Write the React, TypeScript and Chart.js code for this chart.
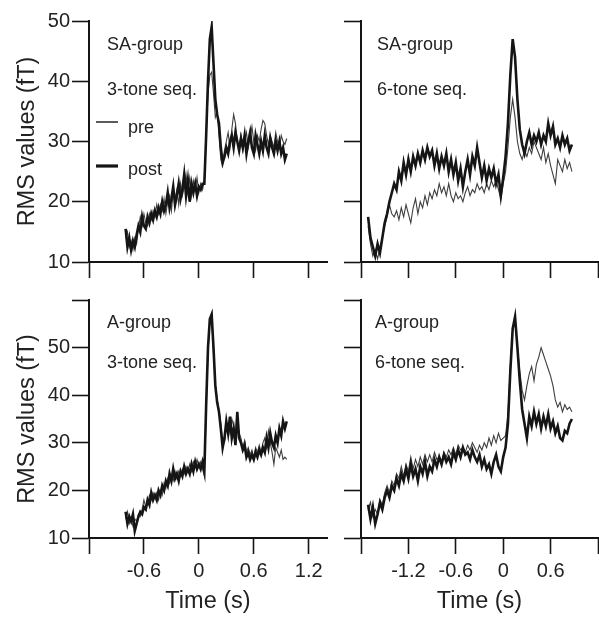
import { useEffect, useRef } from 'react';
import { Chart, registerables } from 'chart.js';

Chart.register(...registerables);

const FONT = '"Liberation Sans", Arial, Helvetica, sans-serif';

// sample timing (s)
const T3_START = -0.8;
const T3_STEP = 0.02;
const T6_START = -1.71;
const T6_STEP = 0.03;

// SA-group, 3-tone sequence
const SA3_POST = [15.5, 12.5, 14, 12, 13.5, 12.5, 14.5, 16, 15, 17.5, 16, 15.5, 17.5, 16.5, 18, 17, 18.5, 17.5, 19, 18, 20, 18.5, 19.5, 21.5, 19, 20.5, 22.5, 19.5, 21, 23, 20.5, 22, 24.5, 21, 23.5, 20, 23, 21.5, 23, 21, 22.5, 22, 23, 23, 31, 40, 47, 49, 43, 37, 34.5, 33, 29, 26.5, 27.5, 29, 28, 30, 31, 29, 31.5, 30, 28.5, 30.5, 29, 31, 28, 30, 31.5, 29, 28, 31, 29.5, 28, 30, 28.5, 31, 29, 28, 30.5, 29, 28, 30, 28.5, 30, 28, 29, 27, 28];
const SA3_PRE = [14, 15, 12.5, 13.5, 12, 14, 13, 15.5, 17.5, 16, 18, 16.5, 16, 18, 17, 18.5, 17.5, 19.5, 18, 19.5, 18.5, 20.5, 18, 20, 21, 18.5, 21.5, 20.5, 22, 19.5, 23, 21, 22.5, 24.5, 21.5, 24, 21, 23.5, 22, 24, 21.5, 23, 22, 23.5, 31, 38, 41, 41.5, 38, 34, 35, 31, 27, 26, 28.5, 30, 31.5, 29, 32, 34.5, 33, 30, 29, 31, 28.5, 30, 31.5, 29, 30.5, 32.5, 30, 28.5, 31, 30, 32, 33.5, 33, 31, 29.5, 31, 30, 29, 31.5, 30, 29, 31, 30, 29.5, 30.5];

// SA-group, 6-tone sequence
const SA6_POST = [17.5, 14, 12.5, 11, 13, 11.5, 14, 16.5, 18, 20, 21.5, 23, 22, 25, 23.5, 26.5, 24.5, 27, 25, 27.5, 26, 28, 26.5, 28.5, 27, 29, 27.5, 28.5, 26, 28, 25.5, 27.5, 26, 28, 25, 27, 24.5, 26.5, 23.5, 25.5, 22.5, 25, 27, 24.5, 27.5, 26, 29, 26.5, 24, 26, 23.5, 25.5, 24, 25.5, 23, 24.5, 21, 24, 27.5, 33, 41, 47, 44, 37, 32, 29.5, 28, 30, 31.5, 29.5, 31, 30, 31.5, 29.5, 31, 30, 33, 31, 32.5, 29.5, 30.5, 29, 31, 29.5, 30.5, 28.5, 29.5];
const SA6_PRE = [16, 13, 11, 12, 10.5, 12.5, 14, 16, 17.5, 19.5, 18, 17.5, 18.5, 17, 19, 17.5, 19.5, 18, 16.5, 19, 20.5, 18, 20, 19, 21, 19.5, 21.5, 20.5, 22, 21, 23, 21.5, 22.5, 21, 23, 21, 20, 21.5, 20.5, 21, 20, 21.5, 22.5, 21, 22, 21.5, 23, 22, 22.5, 21.5, 23, 22, 23.5, 22.5, 23.5, 22, 20.5, 23, 25, 29, 34, 37, 34, 30, 28, 27, 28.5, 27.5, 29, 28, 30, 29, 28, 27, 29, 26.5, 28, 26, 24.5, 23, 27, 26, 25, 27, 25.5, 26.5, 25];

// A-group, 3-tone sequence
const A3_POST = [15.5, 13, 14.5, 13.5, 15, 11.5, 13, 14.5, 15.5, 15, 16.5, 16, 18, 17, 19.5, 18, 19, 18, 20, 19, 21, 20, 22, 21, 23.5, 22, 24.5, 22.5, 23.5, 22, 24, 23, 25, 23.5, 24.5, 23.5, 25.5, 24, 26, 24.5, 25.5, 24.5, 26, 24, 38, 50, 56, 57, 50, 42, 38.5, 36.5, 33, 29, 31, 34.5, 32, 35.5, 31, 33, 29.5, 36.5, 31, 30, 28.5, 29.5, 27, 28, 26.5, 27.5, 26.5, 28, 27, 28.5, 27.5, 29, 28, 31, 29, 32, 30, 29, 31.5, 30, 33, 31.5, 34.5, 33, 34.5];
const A3_PRE = [14, 15.5, 13, 14, 12.5, 14, 13.5, 15, 14.5, 16, 18, 16.5, 17, 19, 18, 19.5, 18.5, 19.5, 18, 20, 19, 21.5, 20.5, 22.5, 21.5, 23, 22, 24, 22.5, 24, 23, 24.5, 23.5, 25, 24, 25.5, 24, 26, 25, 26.5, 25, 26, 24.5, 23, 37, 49, 55.5, 56.5, 49, 42.5, 39, 37, 34, 30, 30, 33, 34, 32, 35, 33.5, 31, 34, 32, 31, 29, 30.5, 28, 29, 27.5, 28.5, 27, 29, 28, 29.5, 28, 30, 31, 29, 32.5, 30, 28, 25.5, 29, 28, 27, 28.5, 26.5, 27, 26.5];

// A-group, 6-tone sequence
const A6_POST = [17, 14, 16.5, 13, 15, 17.5, 16, 18.5, 20, 18.5, 21, 20, 22.5, 21, 23.5, 22, 24.5, 22.5, 25.5, 23, 24.5, 22, 25, 23.5, 26, 23, 25, 24, 26.5, 25, 27, 25.5, 27.5, 26, 27, 25.5, 28, 26.5, 28.5, 27, 29, 27.5, 28, 26.5, 28.5, 27, 26, 27.5, 25, 26.5, 24.5, 25.5, 23.5, 26, 27.5, 25, 24, 27, 29, 34, 45, 54, 56.5, 50, 43, 37, 34, 31, 35.5, 33.5, 36.5, 34, 36, 33, 35.5, 33.5, 36, 33, 34.5, 32, 33.5, 31, 30.5, 32.5, 32, 34, 35];
const A6_PRE = [16, 17.5, 14.5, 16, 15, 18, 17, 19.5, 21, 19.5, 22, 21, 23.5, 22.5, 25, 23, 25.5, 24, 27, 24.5, 26.5, 25, 27, 25.5, 27.5, 26, 27.5, 26, 28, 26.5, 27, 26, 28, 27, 28.5, 27.5, 29, 27.5, 29.5, 28.5, 29, 28, 29.5, 28.5, 30, 29, 28, 29.5, 28.5, 30, 29, 31, 29.5, 31.5, 30, 32, 30.5, 31, 31.5, 36, 46, 54, 56, 50, 45, 41, 39, 42, 44.5, 46, 43, 46.5, 48, 50, 48.5, 47, 45.5, 44, 42, 39, 37.5, 38.5, 36.5, 38, 37, 37.5, 36.5];

// axes
const X_TICKS_3 = [-1.2, -0.6, 0, 0.6, 1.2];
const X_LABELS_3 = ['', '-0.6', '0', '0.6', '1.2'];
const X_TICKS_6 = [-1.8, -1.2, -0.6, 0, 0.6, 1.2];
const X_LABELS_6 = ['', '-1.2', '-0.6', '0', '0.6', ''];
const Y_TICKS_SA = [10, 20, 30, 40, 50];
const Y_LABELS_SA = ['10', '20', '30', '40', '50'];
const Y_TICKS_A = [10, 20, 30, 40, 50, 60];
const Y_LABELS_A = ['10', '20', '30', '40', '50', ''];

const Y_TITLE = 'RMS values (fT)';
const X_TITLE = 'Time (s)';
const SERIES_LABELS = ['post', 'pre'];

type Panel = {
  left: number; top: number; w: number; h: number;
  yAxisW: number; xAxisH: number; padTop: number; padRight: number;
  post: number[]; pre: number[]; tStart: number; tStep: number;
  xMin: number; xMax: number; xTicks: number[]; xLabels: string[]; showXLabels: boolean;
  yMin: number; yMax: number; yTicks: number[]; yLabels: string[]; showYLabels: boolean;
  texts: { text: string; x: number; y: number }[];
  legend: boolean;
};

const PANELS: Panel[] = [
  {
    left: 0, top: 0, w: 335, h: 290, yAxisW: 89, xAxisH: 28, padTop: 21, padRight: 8,
    post: SA3_POST, pre: SA3_PRE, tStart: T3_START, tStep: T3_STEP,
    xMin: -1.2, xMax: 1.4, xTicks: X_TICKS_3, xLabels: X_LABELS_3, showXLabels: false,
    yMin: 10, yMax: 50, yTicks: Y_TICKS_SA, yLabels: Y_LABELS_SA, showYLabels: true,
    texts: [{ text: 'SA-group', x: 107, y: 50 }, { text: '3-tone seq.', x: 107, y: 95 }],
    legend: true,
  },
  {
    left: 335, top: 0, w: 264, h: 290, yAxisW: 26, xAxisH: 28, padTop: 21, padRight: 1,
    post: SA6_POST, pre: SA6_PRE, tStart: T6_START, tStep: T6_STEP,
    xMin: -1.8, xMax: 1.2, xTicks: X_TICKS_6, xLabels: X_LABELS_6, showXLabels: false,
    yMin: 10, yMax: 50, yTicks: Y_TICKS_SA, yLabels: Y_LABELS_SA, showYLabels: false,
    texts: [{ text: 'SA-group', x: 42, y: 50 }, { text: '6-tone seq.', x: 42, y: 95 }],
    legend: false,
  },
  {
    left: 0, top: 290, w: 335, h: 327, yAxisW: 89, xAxisH: 79, padTop: 10, padRight: 8,
    post: A3_POST, pre: A3_PRE, tStart: T3_START, tStep: T3_STEP,
    xMin: -1.2, xMax: 1.4, xTicks: X_TICKS_3, xLabels: X_LABELS_3, showXLabels: true,
    yMin: 10, yMax: 60, yTicks: Y_TICKS_A, yLabels: Y_LABELS_A, showYLabels: true,
    texts: [{ text: 'A-group', x: 107, y: 38 }, { text: '3-tone seq.', x: 107, y: 78 }],
    legend: false,
  },
  {
    left: 335, top: 290, w: 264, h: 327, yAxisW: 26, xAxisH: 79, padTop: 10, padRight: 1,
    post: A6_POST, pre: A6_PRE, tStart: T6_START, tStep: T6_STEP,
    xMin: -1.8, xMax: 1.2, xTicks: X_TICKS_6, xLabels: X_LABELS_6, showXLabels: true,
    yMin: 10, yMax: 60, yTicks: Y_TICKS_A, yLabels: Y_LABELS_A, showYLabels: false,
    texts: [{ text: 'A-group', x: 40, y: 38 }, { text: '6-tone seq.', x: 40, y: 78 }],
    legend: false,
  },
];

const textPlugin = {
  id: 'panelText',
  afterDraw(chart: any, _args: any, opts: any) {
    const ctx = chart.ctx;
    ctx.save();
    ctx.font = `18px ${FONT}`;
    ctx.fillStyle = '#222';
    ctx.textAlign = 'left';
    ctx.textBaseline = 'alphabetic';
    (opts.texts || []).forEach((t: any) => ctx.fillText(t.text, t.x, t.y));
    if (opts.legend) {
      const rows = [
        { ds: chart.data.datasets[1], lineY: 122, textY: 133 },
        { ds: chart.data.datasets[0], lineY: 166, textY: 175 },
      ];
      rows.forEach((r) => {
        ctx.strokeStyle = r.ds.borderColor;
        ctx.lineWidth = r.ds.borderWidth + 0.6;
        ctx.beginPath();
        ctx.moveTo(96, r.lineY);
        ctx.lineTo(118, r.lineY);
        ctx.stroke();
        ctx.fillText(r.ds.label, 128, r.textY);
      });
    }
    ctx.restore();
  },
};

function PanelChart({ p }: { p: Panel }) {
  const ref = useRef<HTMLCanvasElement>(null);
  useEffect(() => {
    if (!ref.current) return;
    const pts = (vals: number[]) =>
      vals.map((v, i) => ({ x: +(p.tStart + i * p.tStep).toFixed(3), y: v }));
    const findLabel = (ticks: number[], labels: string[], v: number) => {
      const i = ticks.findIndex((t) => Math.abs(t - v) < 1e-6);
      return i >= 0 ? labels[i] : '';
    };
    const chart = new Chart(ref.current, {
      type: 'line',
      data: {
        datasets: [
          {
            label: SERIES_LABELS[0], data: pts(p.post), borderColor: '#151515',
            borderWidth: 2.6, pointRadius: 0, tension: 0, fill: false,
          },
          {
            label: SERIES_LABELS[1], data: pts(p.pre), borderColor: '#3e3e3e',
            borderWidth: 1.1, pointRadius: 0, tension: 0, fill: false,
          },
        ],
      },
      options: {
        responsive: false,
        animation: false,
        events: [],
        layout: { padding: { top: p.padTop, right: p.padRight, left: 0, bottom: 0 } },
        plugins: {
          legend: { display: false },
          tooltip: { enabled: false },
          panelText: { texts: p.texts, legend: p.legend },
        } as any,
        scales: {
          x: {
            type: 'linear',
            min: p.xMin,
            max: p.xMax,
            afterBuildTicks: (s: any) => { s.ticks = p.xTicks.map((v) => ({ value: v })); },
            afterFit: (s: any) => {
              s.height = p.xAxisH;
              s.paddingLeft = 0; s.paddingRight = 0; s.paddingTop = 0; s.paddingBottom = 0;
            },
            ticks: {
              autoSkip: false,
              maxRotation: 0,
              padding: 5,
              color: '#222',
              font: { family: FONT, size: 20 },
              callback: (v: any) => (p.showXLabels ? findLabel(p.xTicks, p.xLabels, Number(v)) : ''),
            },
            grid: { drawOnChartArea: false, drawTicks: true, tickLength: 16, tickWidth: 1.6, tickColor: '#151515' },
            border: { display: true, color: '#151515', width: 2 },
            title: {
              display: p.showXLabels,
              text: X_TITLE,
              color: '#222',
              font: { family: FONT, size: 23.5 },
              padding: { top: 0, bottom: 1 },
            },
          },
          y: {
            type: 'linear',
            min: p.yMin,
            max: p.yMax,
            afterBuildTicks: (s: any) => { s.ticks = p.yTicks.map((v) => ({ value: v })); },
            afterFit: (s: any) => {
              s.width = p.yAxisW;
              s.paddingLeft = 0; s.paddingRight = 0; s.paddingTop = 0; s.paddingBottom = 0;
            },
            ticks: {
              autoSkip: false,
              padding: 2,
              color: '#222',
              font: { family: FONT, size: 20 },
              callback: (v: any) => (p.showYLabels ? findLabel(p.yTicks, p.yLabels, Number(v)) : ''),
            },
            grid: { drawOnChartArea: false, drawTicks: true, tickLength: 17, tickWidth: 1.6, tickColor: '#151515' },
            border: { display: true, color: '#151515', width: 2 },
            title: {
              display: p.showYLabels,
              text: Y_TITLE,
              color: '#222',
              font: { family: FONT, size: 23.5 },
              padding: { top: 13, bottom: 0 },
            },
          },
        },
      },
      plugins: [textPlugin],
    });
    return () => chart.destroy();
  }, [p]);
  return (
    <canvas
      ref={ref}
      width={p.w}
      height={p.h}
      style={{ position: 'absolute', left: p.left, top: p.top, width: p.w, height: p.h }}
    />
  );
}

export default function App() {
  return (
    <div style={{ position: 'absolute', left: 0, top: 0, width: 599, height: 617, background: '#fff', overflow: 'hidden' }}>
      {PANELS.map((p, i) => (
        <PanelChart key={i} p={p} />
      ))}
    </div>
  );
}
